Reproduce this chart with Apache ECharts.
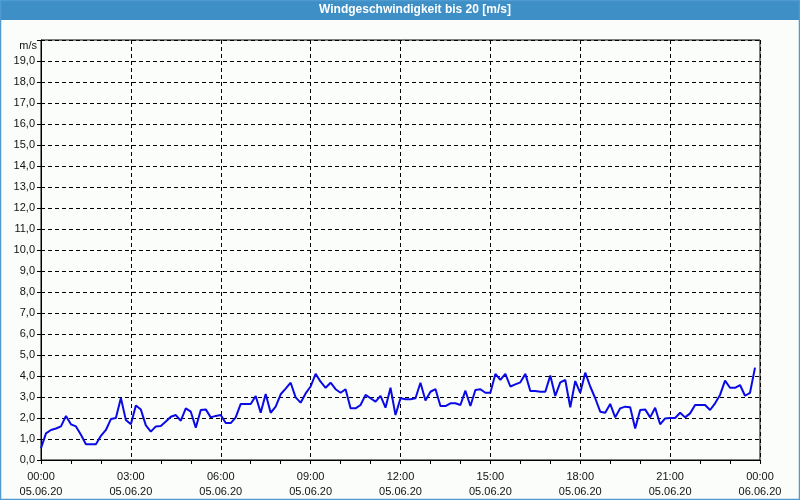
<!DOCTYPE html>
<html>
<head>
<meta charset="utf-8">
<script src="https://cdn.jsdelivr.net/npm/echarts@6/dist/echarts.min.js"></script>
<style>html,body{margin:0;padding:0;background:#fbfdfb}#c{width:800px;height:500px}</style>
</head>
<body>
<div id="c"></div>
<script>
// Wind speed [m/s], 10-minute steps from 05.06.20 00:00
const stepMinutes = 10;
const speedPart1 = [0.56,1.27,1.43,1.5,1.6,2.1,1.7,1.6,1.2,0.75,0.75,0.75,1.15,1.43,1.95,2.0,2.95,1.9,1.7,2.6,2.4,1.65,1.35,1.6];
const speedPart2 = [1.62,1.83,2.06,2.14,1.87,2.46,2.3,1.54,2.38,2.41,2.03,2.1,2.14,1.76,1.76,2.03,2.67,2.67,2.67,3.05,2.25,3.14,2.25,2.54];
const speedPart3 = [3.13,3.4,3.68,2.98,2.73,3.17,3.5,4.1,3.73,3.44,3.68,3.37,3.2,3.37,2.46,2.46,2.62,3.1,2.94,2.78,3.05,2.49,3.44,2.14];
const speedPart4 = [2.94,2.89,2.89,2.94,3.68,2.83,3.25,3.38,2.57,2.57,2.7,2.7,2.62,3.3,2.57,3.33,3.37,3.2,3.2,4.1,3.81,4.1,3.5,3.6];
const speedPart5 = [3.7,4.1,3.29,3.29,3.25,3.25,4.02,3.05,3.7,3.81,2.51,3.76,3.2,4.16,3.5,2.94,2.3,2.25,2.67,2.03,2.46,2.54,2.51,1.5];
const speedPart6 = [2.38,2.41,2.03,2.49,1.7,1.98,2.0,2.0,2.25,2.03,2.22,2.62,2.62,2.62,2.38,2.7,3.1,3.78,3.44,3.44,3.57,3.06,3.2,4.4];
const xTickTimes = ['00:00','03:00','06:00','09:00','12:00','15:00','18:00','21:00','00:00'];
const xTickDates = ['05.06.20','05.06.20','05.06.20','05.06.20','05.06.20','05.06.20','05.06.20','05.06.20','06.06.20'];
const titleText = 'Windgeschwindigkeit bis 20 [m/s]';
const unitText = 'm/s';

const speeds = [].concat(speedPart1, speedPart2, speedPart3, speedPart4, speedPart5, speedPart6);
const seriesData = speeds.map((v, i) => [i * stepMinutes, v]);

const chart = echarts.init(document.getElementById('c'), null, {renderer: 'canvas'});
const font = 'Liberation Sans';
chart.setOption({
  backgroundColor: '#fbfdfb',
  animation: false,
  graphic: [
    {type: 'rect', shape: {x: 0, y: 0, width: 800, height: 20}, style: {fill: '#3d8fc6'}, z: 0},
    {type: 'rect', shape: {x: 0.5, y: 0.5, width: 799, height: 499}, style: {fill: 'none', stroke: '#4f9ad0', lineWidth: 1.5}, z: 0},
    {type: 'text', x: 415, y: 4, style: {text: titleText, fill: '#ffffff', font: 'bold 12px "Liberation Sans"', textAlign: 'center'}, z: 1},
    {type: 'text', x: 37, y: 40, style: {text: unitText, fill: '#111', font: '11px "Liberation Sans"', textAlign: 'right'}, z: 1}
  ],
  grid: {left: 41, right: 40, top: 40, bottom: 40, show: true, borderColor: '#000', borderWidth: 1, backgroundColor: 'transparent'},
  xAxis: {
    type: 'value', min: 0, max: 1440, interval: 180,
    axisLine: {show: true, lineStyle: {color: '#000', width: 1}},
    axisTick: {show: true, length: 4, lineStyle: {color: '#000'}},
    minorTick: {show: true, splitNumber: 3, length: 4, lineStyle: {color: '#000'}},
    splitLine: {show: true, lineStyle: {color: '#000', type: [4, 3], width: 1}},
    axisLabel: {
      margin: 9, color: '#111', fontFamily: font, fontSize: 11, lineHeight: 15,
      showMaxLabel: true, showMinLabel: true,
      formatter: v => { const k = Math.round(v / 180); return xTickTimes[k] + '\n' + xTickDates[k]; }
    }
  },
  yAxis: {
    type: 'value', min: 0, max: 20, interval: 1,
    axisLine: {show: true, lineStyle: {color: '#000', width: 1}},
    axisTick: {show: true, length: 4, lineStyle: {color: '#000'}},
    splitLine: {show: true, lineStyle: {color: '#000', type: [4, 3], width: 1}},
    axisLabel: {
      margin: 6, color: '#111', fontFamily: font, fontSize: 11,
      formatter: v => v >= 20 ? '' : v.toFixed(1).replace('.', ',')
    }
  },
  series: [{
    type: 'line', data: seriesData, showSymbol: false, symbol: 'none',
    lineStyle: {color: '#0a0ae6', width: 2}
  }]
});
</script>
</body>
</html>
